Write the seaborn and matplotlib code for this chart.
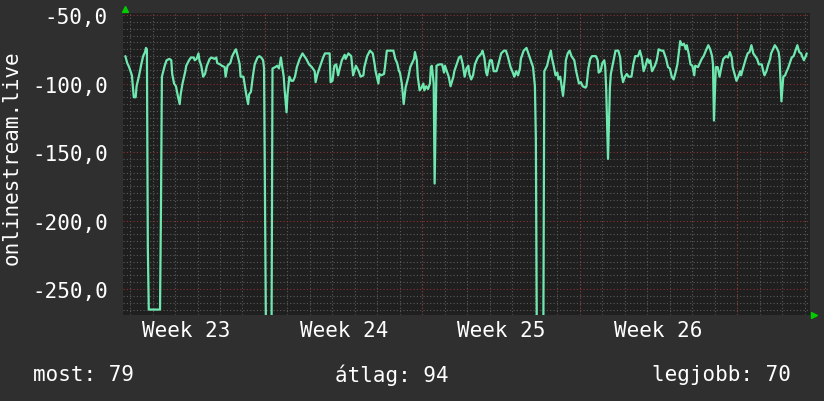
import matplotlib
matplotlib.use("Agg")
import matplotlib.pyplot as plt
import matplotlib.transforms as mtransforms
from matplotlib.ticker import MultipleLocator, FuncFormatter
import pandas as pd
import seaborn as sns

# hours since start of week 23
hours = [
    19, 21, 23, 26, 28, 30, 31, 34, 36, 38, 40, 41, 42, 43, 44, 56, 57, 58, 61, 63,
    66, 68, 69, 71, 73, 75, 77, 78, 80, 83, 84, 87, 89, 92, 93, 95, 97, 98, 100, 102,
    104, 106, 109, 111, 114, 116, 117, 120, 122, 125, 126, 128, 131, 133, 136, 137, 140, 141, 142, 145,
    147, 148, 150, 151, 153, 155, 157, 160, 162, 164, 166, 167, 169, 175, 176, 179, 181, 183, 185, 186,
    188, 189, 191, 192, 194, 196, 198, 200, 202, 205, 208, 210, 212, 215, 218, 221, 222, 224, 227, 230,
    232, 237, 238, 240, 242, 244, 246, 247, 250, 253, 254, 257, 260, 262, 265, 268, 270, 273, 274, 277,
    280, 283, 285, 286, 289, 290, 292, 295, 296, 298, 302, 305, 307, 309, 311, 312, 314, 316, 318, 321,
    323, 325, 327, 328, 330, 331, 333, 335, 337, 338, 340, 342, 344, 345, 346, 348, 349, 351, 354, 357,
    359, 360, 362, 364, 366, 369, 370, 373, 375, 377, 379, 381, 383, 385, 386, 388, 390, 392, 395, 399,
    400, 402, 404, 405, 408, 410, 412, 415, 417, 420, 423, 425, 427, 430, 433, 434, 436, 438, 440, 441,
    444, 447, 449, 451, 454, 456, 457, 458, 465, 466, 469, 471, 473, 474, 476, 478, 480, 481, 483, 486,
    488, 489, 491, 493, 495, 498, 500, 503, 505, 507, 510, 511, 513, 515, 517, 521, 523, 524, 526, 528,
    530, 531, 532, 534, 536, 537, 540, 542, 545, 547, 548, 550, 552, 554, 556, 559, 561, 563, 566, 568,
    570, 572, 574, 576, 578, 579, 581, 584, 586, 588, 591, 593, 595, 596, 598, 600, 602, 604, 606, 608,
    610, 611, 613, 615, 617, 618, 620, 622, 624, 626, 627, 630, 634, 636, 639, 641, 643, 645, 646, 647,
    649, 651, 653, 655, 657, 660, 662, 664, 666, 667, 669, 671, 673, 675, 676, 678, 681, 683, 685, 687,
    689, 691, 693, 695, 698, 700, 701, 703, 705, 707, 708, 710, 712, 714, 716, 717, 719, 721, 723, 724,
    726, 728, 730, 732, 734, 736, 738, 740, 741, 743, 745, 746,
]
signal = [
    -80, -85, -88, -94, -110, -110, -102, -93, -86, -80, -77, -74, -75, -220, -265, -265, -192, -95, -87, -83,
    -82, -83, -93, -100, -102, -109, -115, -108, -100, -91, -87, -83, -81, -81, -83, -82, -78, -83, -87, -95,
    -93, -87, -82, -81, -82, -81, -85, -86, -87, -88, -95, -87, -85, -80, -76, -75, -83, -86, -95, -95,
    -104, -108, -115, -108, -106, -95, -86, -81, -80, -81, -83, -89, -280, -280, -89, -88, -87, -89, -81, -86,
    -95, -105, -121, -108, -95, -98, -98, -95, -88, -82, -78, -80, -82, -86, -88, -91, -99, -93, -87, -81,
    -78, -78, -99, -98, -87, -86, -94, -91, -83, -79, -82, -78, -80, -94, -87, -91, -95, -94, -88, -80,
    -76, -78, -86, -91, -100, -93, -94, -93, -88, -76, -76, -76, -82, -85, -91, -92, -100, -115, -103, -95,
    -88, -85, -82, -77, -83, -95, -105, -103, -100, -105, -102, -104, -100, -88, -87, -100, -173, -87, -86, -86,
    -92, -87, -91, -95, -102, -95, -91, -85, -81, -80, -86, -95, -89, -87, -93, -97, -94, -86, -81, -78,
    -76, -81, -92, -94, -83, -83, -91, -91, -86, -78, -76, -76, -80, -88, -93, -95, -91, -94, -89, -82,
    -76, -74, -78, -82, -88, -102, -140, -280, -280, -91, -87, -81, -76, -81, -87, -94, -92, -97, -95, -109,
    -95, -83, -78, -76, -80, -83, -91, -100, -99, -102, -103, -102, -89, -82, -80, -80, -83, -92, -91, -85,
    -83, -88, -103, -155, -103, -93, -83, -76, -76, -81, -91, -99, -95, -93, -95, -95, -86, -80, -80, -76,
    -81, -91, -87, -82, -85, -83, -91, -87, -83, -75, -76, -76, -80, -82, -88, -89, -95, -97, -92, -86,
    -75, -69, -72, -71, -75, -72, -78, -86, -87, -94, -87, -88, -82, -80, -75, -72, -75, -80, -86, -127,
    -88, -88, -95, -88, -82, -80, -81, -77, -81, -88, -93, -98, -95, -91, -94, -89, -82, -78, -77, -72,
    -78, -80, -82, -86, -86, -92, -94, -91, -86, -82, -78, -75, -72, -74, -77, -82, -113, -95, -94, -92,
    -89, -85, -81, -80, -76, -72, -77, -78, -80, -83, -80, -78,
]
week_labels = ["Week 23", "Week 24", "Week 25", "Week 26"]
stat_names = ["most", "átlag", "legjobb"]
stat_values = [79, 94, 70]

BG = "#2f2f2f"
PLOT_BG = "#1f1f1f"
LINE = "#6fe8b0"
MINOR = "#5a5a5a"
MAJOR = "#8a3232"

sns.set_theme(style="dark", rc={"axes.facecolor": PLOT_BG, "figure.facecolor": BG})
plt.rcParams["font.family"] = ["DejaVu Sans Mono"]
plt.rcParams["axes.unicode_minus"] = False

df = pd.DataFrame({"hour": hours, "signal": signal})

fig = plt.figure(figsize=(8.24, 4.02), dpi=100, facecolor=BG)
ax = fig.add_axes([123 / 824, 1 - 315.5 / 402, 687 / 824, 301.5 / 402])
ax.set_facecolor(PLOT_BG)

sns.lineplot(data=df, x="hour", y="signal", estimator=None, sort=False,
             color=LINE, lw=1.6, ax=ax, zorder=5)

ax.set_xlim(16.5, 749.5)
ax.set_ylim(-268.6, -48.5)
ax.set_xlabel("")
ax.set_ylabel("")

ax.set_yticks(range(-250, -49, 50))
ax.yaxis.set_major_formatter(FuncFormatter(lambda v, p: f"{v:.1f}".replace(".", ",")))
ax.set_xticks([84 + 168 * i for i in range(len(week_labels))], week_labels)
ax.xaxis.set_minor_locator(MultipleLocator(24))
ax.yaxis.set_minor_locator(MultipleLocator(5))

ax.grid(False)
ax.grid(which="minor", color=MINOR, ls=(0, (1, 2)), lw=0.8)
ax.grid(axis="y", which="major", color=MAJOR, ls=(0, (1, 2)), lw=0.8)
for w in range(168, 750, 168):
    ax.axvline(w, color=MAJOR, ls=(0, (1, 2)), lw=0.8, zorder=1)

ax.tick_params(which="both", length=0, colors="white", labelsize=15)
ax.tick_params(axis="y", pad=11)
ax.tick_params(axis="x", pad=4)
for s in ax.spines.values():
    s.set_visible(False)

# little green arrows at the ends of the axes
up = mtransforms.offset_copy(ax.transAxes, fig=fig, x=2, y=4, units="dots")
ax.plot([0], [1], marker="^", color="#00cc00", ms=5, transform=up, clip_on=False)
right = mtransforms.offset_copy(ax.transAxes, fig=fig, x=4, y=0, units="dots")
ax.plot([1], [0], marker=">", color="#00cc00", ms=5, transform=right, clip_on=False)

fig.text(12 / 824, 1 - 158 / 402, "onlinestream.live", rotation=90,
         ha="center", va="center", color="white", fontsize=15)

y_stat = 1 - 375 / 402
fig.text(33 / 824, y_stat, f"{stat_names[0]}: {stat_values[0]}", ha="left", va="center",
         color="white", fontsize=15)
fig.text(392 / 824, y_stat, f"{stat_names[1]}: {stat_values[1]}", ha="center", va="center",
         color="white", fontsize=15)
fig.text(791 / 824, y_stat, f"{stat_names[2]}: {stat_values[2]}", ha="right", va="center",
         color="white", fontsize=15)

plt.savefig("out.png", dpi=100, facecolor=BG)
